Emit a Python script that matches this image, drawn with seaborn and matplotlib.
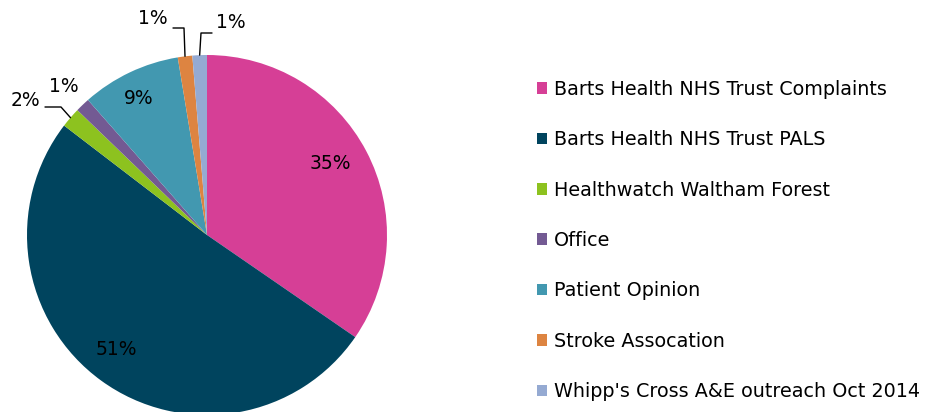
import numpy as np
import matplotlib
matplotlib.use("Agg")
import matplotlib.pyplot as plt
import seaborn as sns

categories = [
    "Barts Health NHS Trust Complaints",
    "Barts Health NHS Trust PALS",
    "Healthwatch Waltham Forest",
    "Office",
    "Patient Opinion",
    "Stroke Assocation",
    "Whipp's Cross A&E outreach Oct 2014",
]
shares = [34.6, 50.8, 1.8, 1.3, 8.9, 1.3, 1.3]
pct_labels = ["35%", "51%", "2%", "1%", "9%", "1%", "1%"]
colors = ["#D63F96", "#00445E", "#8DC21F", "#735A93", "#4298B0", "#DD8441", "#95AAD2"]

sns.set_theme(style="white")
plt.rcParams["font.family"] = ["DejaVu Sans"]
plt.rcParams["text.color"] = "black"

fig = plt.figure(figsize=(9.26, 4.12), dpi=100)
W, H = 926, 412
cx, cy, R = 207, 235, 180
ax = fig.add_axes([(cx - R) / W, (H - cy - R) / H, 2 * R / W, 2 * R / H])
ax.axis("off")

wedges, _ = ax.pie(shares, colors=colors, startangle=90, counterclock=False,
                   radius=1.0, wedgeprops=dict(linewidth=0))
ax.set_xlim(-1, 1)
ax.set_ylim(-1, 1)
ax.set_aspect("equal")

fs = 13.5
lfs = 13.8
tc = "black"
# inside labels
for i, w in enumerate(wedges):
    ang = np.deg2rad((w.theta1 + w.theta2) / 2)
    if shares[i] >= 5:
        d = 0.81 if shares[i] > 20 else 0.82
        ax.text(d * np.cos(ang) - 0.03, d * np.sin(ang) + 0.02, pct_labels[i],
                ha="center", va="center", fontsize=fs, color=tc)

def px(x, y):
    return ((x - cx) / R, (cy - y) / R)

# outside labels with leaders
def leader(i, elbow, end, text_xy, ha):
    w = wedges[i]
    ang = np.deg2rad((w.theta1 + w.theta2) / 2)
    p0 = (np.cos(ang), np.sin(ang))
    ax.plot([p0[0], elbow[0], end[0]], [p0[1], elbow[1], end[1]],
            color=tc, lw=1.0, clip_on=False)
    ax.text(text_xy[0], text_xy[1], pct_labels[i], ha=ha, va="center",
            fontsize=fs, color=tc, clip_on=False)

# green 2%
leader(2, px(61, 107), px(45, 107), px(40, 100), "right")
# purple 1% (no leader line)
ax.text(*px(64, 87), pct_labels[3], ha="center", va="center", fontsize=fs, color=tc)
# orange 1%
leader(5, px(184, 28), px(173, 28), px(168, 19), "right")
# light blue 1%
leader(6, px(201, 33), px(212, 33), px(216, 22), "left")

leg = fig.legend(wedges, categories, loc="upper left", bbox_to_anchor=(529 / W, 1 - 72 / H),
                 frameon=False, fontsize=lfs, handlelength=0.55, handleheight=0.55,
                 handletextpad=0.35, labelspacing=1.64, borderaxespad=0)
for t in leg.get_texts():
    t.set_color(tc)

fig.savefig("out.png", dpi=100)
